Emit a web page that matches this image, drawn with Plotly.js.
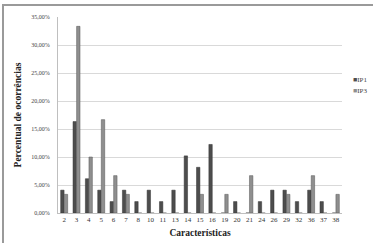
<!DOCTYPE html>
<html><head><meta charset="utf-8">
<script src="https://cdn.plot.ly/plotly-3.0.1.min.js"></script>
<style>
html,body{margin:0;padding:0;background:#fff;}
#wrap{position:absolute;left:0;top:0;width:378px;height:243px;}
#frame{position:absolute;left:2px;top:4px;width:371px;height:239px;border-top:2px solid #9a9a9a;border-left:2px solid #9a9a9a;box-sizing:border-box;pointer-events:none;}
#chart{position:absolute;left:0;top:0;width:378px;height:243px;}
</style></head>
<body>
<div id="wrap"><div id="chart"></div><div id="frame"></div></div>
<script>
const categories = ["2","3","4","5","6","7","8","10","11","13","14","15","16","19","20","21","24","26","29","32","36","37","38"];
const ip1 = [4.08,16.33,6.12,4.08,2.04,4.08,2.04,4.08,2.04,4.08,10.20,8.16,12.24,0,2.04,0,2.04,4.08,4.08,2.04,4.08,2.04,0];
const ip3 = [3.33,33.33,10.00,16.67,6.67,3.33,0,0,0,0,0,3.33,0,3.33,0,6.67,0,0,3.33,0,6.67,0,3.33];
const yTickVals = [0,5,10,15,20,25,30,35];
const yTickText = ["0,00%","5,00%","10,00%","15,00%","20,00%","25,00%","30,00%","35,00%"];
const seriesNames = ["IP1","IP3"];
const seriesColors = ["#4d4d4d","#8f8f8f"];

const traces = [
  {type:"bar", name:seriesNames[0], x:categories, y:ip1, marker:{color:seriesColors[0], line:{color:"#333", width:0.5}}},
  {type:"bar", name:seriesNames[1], x:categories, y:ip3, marker:{color:seriesColors[1], line:{color:"#555", width:0.5}}}
];
const legendAnns = seriesNames.map((n,i)=>({
  xref:"paper", yref:"paper", x:1.03, y:0.68 - i*0.056, xanchor:"left", yanchor:"middle",
  showarrow:false, font:{size:7, color:"#444"},
  text:"<span style='color:"+seriesColors[i]+"'>■</span>"+n
}));
const layout = {
  width:378, height:243,
  margin:{l:58, r:36, t:17, b:30},
  paper_bgcolor:"#fff", plot_bgcolor:"#fff",
  font:{family:"Liberation Serif, Times New Roman, serif", color:"#333", size:7},
  barmode:"group", bargap:0.42, bargroupgap:0.05,
  showlegend:false,
  annotations:legendAnns,
  xaxis:{type:"category", tickfont:{size:7, color:"#333"}, showline:true, linecolor:"#bfbfbf", linewidth:1, ticks:"", showgrid:false,
    title:{text:"<b>Características</b>", font:{size:9.5, color:"#222"}, standoff:5}},
  yaxis:{range:[0,35], tickvals:yTickVals, ticktext:yTickText, tickfont:{size:6, color:"#444"}, showgrid:true, gridcolor:"#d9d9d9", gridwidth:1,
    showline:true, linecolor:"#bfbfbf", linewidth:1, zeroline:false, ticks:"", ticklabelstandoff:6,
    title:{text:"<b>Percentual de ocorrências</b>", font:{size:9.5, color:"#222"}, standoff:7}}
};
Plotly.newPlot("chart", traces, layout, {displayModeBar:false, staticPlot:true});
</script>
</body></html>
